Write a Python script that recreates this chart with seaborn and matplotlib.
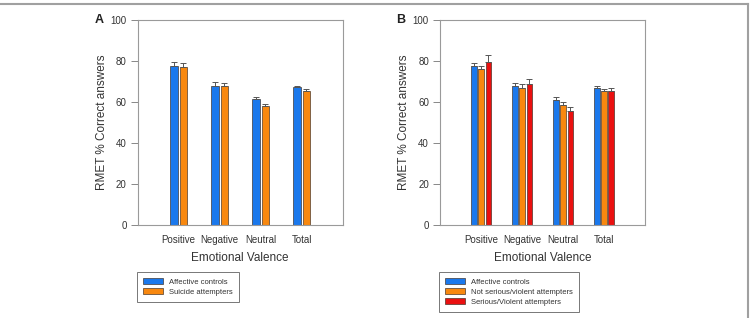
import numpy as np
import pandas as pd
import matplotlib
matplotlib.use("Agg")
import matplotlib.pyplot as plt
import seaborn as sns

# Data
valence = ["Positive", "Negative", "Neutral", "Total"]

# Panel A
a_controls = [77.7, 68.0, 61.3, 67.2]
a_controls_err = [1.6, 1.6, 1.3, 0.8]
a_attempters = [77.2, 68.0, 58.0, 65.5]
a_attempters_err = [1.7, 1.3, 1.2, 0.7]

# Panel B
b_controls = [77.5, 67.6, 61.1, 66.9]
b_controls_err = [1.6, 1.6, 1.3, 0.7]
b_not_serious = [75.9, 67.0, 58.7, 65.3]
b_not_serious_err = [1.6, 1.7, 1.4, 1.0]
b_serious = [79.7, 68.7, 55.4, 65.3]
b_serious_err = [3.0, 2.6, 2.0, 1.5]

blue = "#1a78ec"
orange = "#f8880f"
red = "#ea1010"

plt.rcParams["font.family"] = ["Liberation Sans", "DejaVu Sans"]


def make_df(series):
    rows = []
    for name, vals in series:
        for cat, v in zip(valence, vals):
            rows.append({"valence": cat, "group": name, "value": v})
    return pd.DataFrame(rows)


def draw_panel(ax, series, errs, colors, width, label, spacing):
    df = make_df(series)
    names = [s[0] for s in series]
    sns.barplot(data=df, x="valence", y="value", hue="group", hue_order=names,
                palette=colors, saturation=1, errorbar=None, width=width, gap=0.24,
                edgecolor="#3a2a20", linewidth=0.45, ax=ax)
    # one-sided error bars on top of each bar
    for cont, err in zip(ax.containers, errs):
        xs = [p.get_x() + p.get_width() / 2 for p in cont.patches]
        ys = [p.get_height() for p in cont.patches]
        ax.errorbar(xs, ys, yerr=[np.zeros(len(err)), err], fmt="none",
                    ecolor="#555555", elinewidth=0.7, capsize=2.2, capthick=0.7)
    ax.set_xlim(-1, 4)
    ax.set_ylim(0, 100)
    ax.set_yticks([0, 20, 40, 60, 80, 100])
    ax.tick_params(axis="y", length=5, width=0.7, color="#888888",
                   labelsize=7, labelcolor="#333333", pad=3)
    ax.tick_params(axis="x", length=0, labelsize=7, labelcolor="#333333", pad=7)
    for s in ax.spines.values():
        s.set_color("#9a9a9a")
        s.set_linewidth(0.8)
    ax.set_xlabel("Emotional Valence", fontsize=8.5, color="#333333", labelpad=5)
    ax.set_ylabel("RMET % Correct answers", fontsize=8.5, color="#333333", labelpad=2)
    leg = ax.legend(loc="upper left", bbox_to_anchor=(-0.005, -0.228),
                    borderaxespad=0, fontsize=5.5, frameon=True, fancybox=False,
                    handlelength=2.6, handleheight=0.9, handletextpad=0.8,
                    labelspacing=spacing, borderpad=0.8, title=None)
    leg.get_frame().set_edgecolor("#555555")
    leg.get_frame().set_linewidth(0.7)
    for t in leg.get_texts():
        t.set_color("#333333")
    ax.text(-0.19, 1.0, label, transform=ax.transAxes, fontsize=9,
            fontweight="bold", ha="center", va="center", color="#222222")


fig = plt.figure(figsize=(7.5, 3.18), dpi=100)
ax_a = fig.add_axes([0.1836, 0.2925, 0.2733, 0.6447])
ax_b = fig.add_axes([0.5867, 0.2925, 0.2733, 0.6447])

draw_panel(ax_a,
           [("Affective controls", a_controls), ("Suicide attempters", a_attempters)],
           [a_controls_err, a_attempters_err],
           [blue, orange], 0.46, "A", 0.3)
draw_panel(ax_b,
           [("Affective controls", b_controls),
            ("Not serious/violent attempters", b_not_serious),
            ("Serious/Violent attempters", b_serious)],
           [b_controls_err, b_not_serious_err, b_serious_err],
           [blue, orange, red], 0.53, "B", 0.3)

# outer frame lines (top and right) as in the source figure
fig.add_artist(plt.Line2D([0, 0.997], [0.987, 0.987], transform=fig.transFigure,
                          color="#a0a0a0", linewidth=1.5))
fig.add_artist(plt.Line2D([0.997, 0.997], [0.0, 0.987], transform=fig.transFigure,
                          color="#a0a0a0", linewidth=1.5))

fig.savefig("out.png", dpi=100)
